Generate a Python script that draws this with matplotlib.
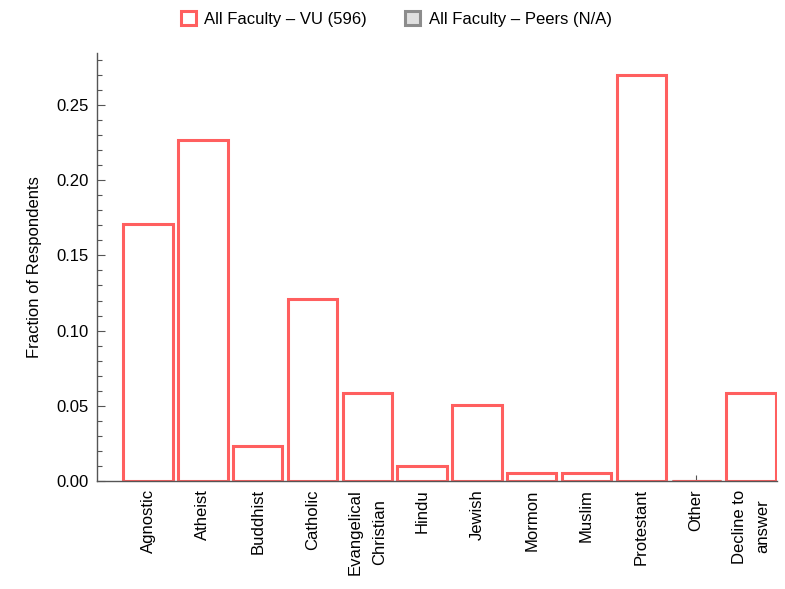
import numpy as np
import matplotlib.pyplot as plt
from matplotlib.patches import Patch
from matplotlib.ticker import MultipleLocator

plt.rcParams['font.family'] = ['Liberation Sans', 'DejaVu Sans']

religions = ['Agnostic', 'Atheist', 'Buddhist', 'Catholic', 'Evangelical\nChristian',
             'Hindu', 'Jewish', 'Mormon', 'Muslim', 'Protestant', 'Other', 'Decline to\nanswer']
vu_frac = [0.1711, 0.2265, 0.0235, 0.1208, 0.0587, 0.0101, 0.0503, 0.0050, 0.0050,
           0.2701, 0.0, 0.0587]
peers_frac = [0.0] * 12

red = '#FF5F5F'
grey = '#8C8C8C'
axis_col = '#555555'

fig = plt.figure(figsize=(7.85, 5.89), dpi=100)
ax = fig.add_axes([0.1236, 0.1834, 0.866, 0.7266])

x = np.arange(len(religions))
ax.bar(x, peers_frac, width=0.9, facecolor='#E0E0E0', edgecolor=grey, linewidth=2.2, zorder=2)
ax.bar(x, vu_frac, width=0.9, facecolor='white', edgecolor=red, linewidth=2.2, zorder=3)

ax.set_xlim(-0.93, 11.47)
ax.set_ylim(0, 0.2846)
ax.set_xticks(x)
ax.set_xticklabels(religions, rotation=90, ha='center', va='top', multialignment='center',
                   fontsize=12, linespacing=1.75)
ax.yaxis.set_major_locator(MultipleLocator(0.05))
ax.yaxis.set_minor_locator(MultipleLocator(0.01))
ax.yaxis.set_major_formatter(plt.FormatStrFormatter('%.2f'))
ax.tick_params(axis='y', direction='in', length=6, width=0.8, color=axis_col, labelsize=12, pad=6)
ax.tick_params(axis='y', which='minor', direction='in', length=3.5, width=0.8, color=axis_col)
ax.tick_params(axis='x', direction='in', length=4, width=0.8, color=axis_col, pad=6)

for s in ['top', 'right']:
    ax.spines[s].set_visible(False)
for s in ['left', 'bottom']:
    ax.spines[s].set_color(axis_col)
    ax.spines[s].set_linewidth(1.0)
ax.spines['bottom'].set_zorder(4)

ax.set_ylabel('Fraction of Respondents', fontsize=12, labelpad=10)

handles = [Patch(facecolor='white', edgecolor=red, linewidth=2.2, label='All Faculty – VU (596)'),
           Patch(facecolor='#E0E0E0', edgecolor=grey, linewidth=2.2, label='All Faculty – Peers (N/A)')]
fig.legend(handles=handles, loc='center', bbox_to_anchor=(0.505, 0.968), ncol=2, frameon=False,
           fontsize=12, handlelength=0.9, handleheight=0.9, columnspacing=2.3, handletextpad=0.5)

fig.savefig('out.png', dpi=100)
